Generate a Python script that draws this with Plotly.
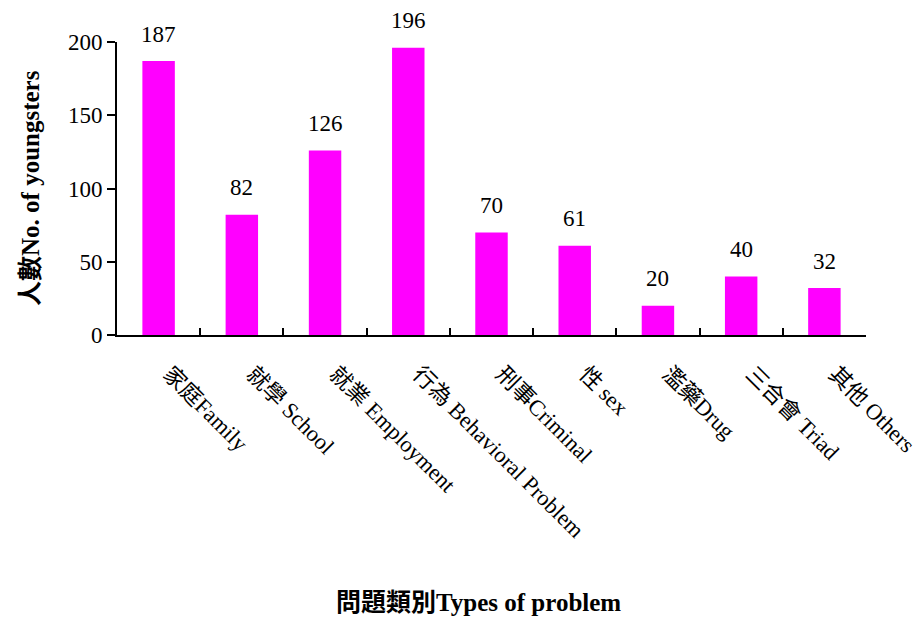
import plotly.graph_objects as go

categories = ["家庭Family", "就學 School", "就業 Employment", "行為 Behavioral Problem",
              "刑事Criminal", "性 sex", "濫藥Drug", "三合會 Triad", "其他 Others"]
values = [187, 82, 126, 196, 70, 61, 20, 40, 32]
y_ticks = [0, 50, 100, 150, 200]

FONT = "Liberation Serif, 'Noto Sans CJK TC', serif"

fig = go.Figure()
fig.add_trace(go.Bar(
    x=categories, y=values,
    marker=dict(color="#FF00FF", line=dict(width=0)),
    width=0.39,
))

for c, v in zip(categories, values):
    fig.add_annotation(x=c, y=v, text=str(v), showarrow=False,
                       yshift=27, font=dict(family=FONT, size=23, color="black"))

fig.add_annotation(xref="paper", yref="paper", x=(478 - 117) / 749, y=-(602 - 335) / 293,
                   xanchor="center", yanchor="middle",
                   text="<b>問題類別Types of problem</b>", showarrow=False,
                   font=dict(family=FONT, size=25, color="black"))
fig.add_annotation(xref="paper", yref="paper", x=-(117 - 30) / 749, y=(335 - 188) / 293,
                   xanchor="center", yanchor="middle",
                   text="<b>人數No. of youngsters</b>", showarrow=False, textangle=-90,
                   font=dict(family=FONT, size=25, color="black"))

fig.update_layout(
    width=924, height=619,
    margin=dict(l=117, r=58, t=42, b=284),
    paper_bgcolor="white", plot_bgcolor="white",
    showlegend=False,
    font=dict(family=FONT, size=23, color="black"),
    bargap=0.6,
)
fig.update_xaxes(
    showline=True, linecolor="black", linewidth=2,
    ticks="inside", tickson="boundaries", ticklen=7, tickwidth=2, tickcolor="black",
    tickangle=45, tickfont=dict(family=FONT, size=22.5, color="black"),
    ticklabelstandoff=15, ticklabelshift=11,
    showgrid=False, automargin=False,
)
fig.update_yaxes(
    range=[0, 200], tickvals=y_ticks,
    showline=True, linecolor="black", linewidth=2,
    ticks="outside", ticklen=8, tickwidth=2, tickcolor="black",
    tickfont=dict(family=FONT, size=23, color="black"),
    showgrid=False, zeroline=False, automargin=False,
)

fig.write_html("out.html")
